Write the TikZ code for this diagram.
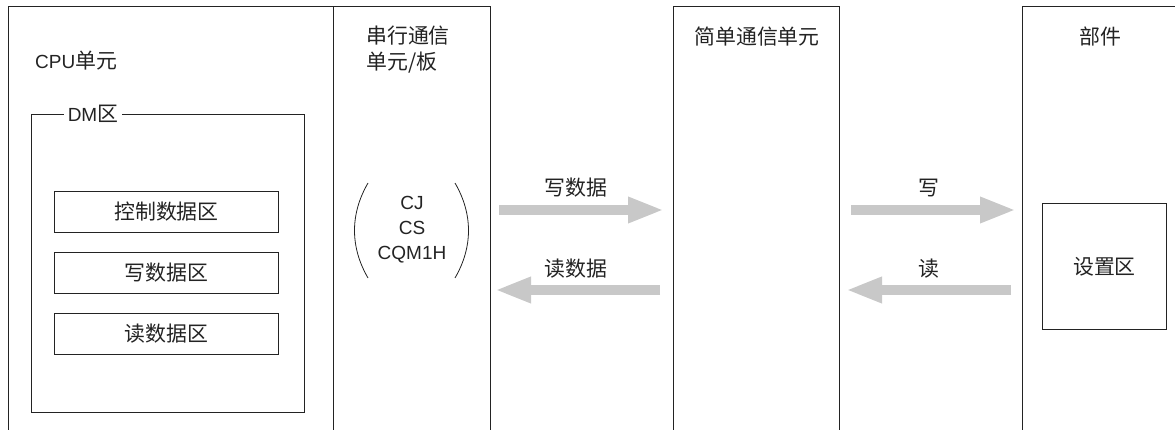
\documentclass[tikz,border=0pt]{standalone}
\usepackage{fontspec}
\setmainfont{Liberation Sans}
\newfontfamily\cjk[Scale=1.1]{Noto Sans CJK SC}
\usetikzlibrary{arrows.meta,positioning}
\definecolor{pfeilgrau}{RGB}{200,200,200}
\definecolor{linie}{RGB}{35,35,35}
\tikzset{
  kasten/.style={rectangle, draw=linie, line width=0.9pt, anchor=north west, inner sep=0pt},
  schrift/.style={font=\fontsize{19}{26}\selectfont, text=linie, inner sep=1pt},
  datenpfeil/.style={line width=10pt, color=pfeilgrau, -{Triangle[length=36pt,width=24pt]}},
  klammer/.style={draw=linie, line width=0.8pt},
}

\begin{document}
\begin{tikzpicture}[x=1pt,y=-1pt]
        % Rahmen
        \useasboundingbox (0,0) rectangle (1175,430);
        \clip (0,0) rectangle (1175,430);
        % Rechteck - CPU Einheit
        \node at (8,6) [kasten, minimum width=325pt, minimum height=444pt] (cpu) {};
        \node at (34,61) [anchor=west, schrift] (cputext) {CPU{\cjk 单元}};
        % Rechteck - serielle Einheit
        \node at (333,6) [kasten, minimum width=157pt, minimum height=444pt] (ser) {};
        \node at (365,50) [anchor=west, align=left, schrift] (sertext) {{\cjk 串行通信}\\{\cjk 单元/板}};
        % Typen in Klammern
        \node at (412,230) [align=center, schrift, font=\fontsize{19}{25}\selectfont] (typen) {CJ\\CS\\CQM1H};
        \draw[klammer] (368,183) .. controls (350,214) and (350,247) .. (368,278);
        \draw[klammer] (455,183) .. controls (473,214) and (473,247) .. (455,278);
        % Rechteck - DM Bereich
        \node at (31,114) [kasten, minimum width=273pt, minimum height=298pt] (dm) {};
        \node at (93,114) [fill=white, schrift, inner xsep=4pt] (dmtext) {DM{\cjk 区}};
        % Rechtecke - Datenbereiche
        \node at (54,191) [kasten, minimum width=224pt, minimum height=41pt] (steuer) {};
        \node at (steuer.center) [schrift] {\cjk 控制数据区};
        \node at (54,252) [kasten, minimum width=224pt, minimum height=41pt] (schreib) {};
        \node at (schreib.center) [schrift] {\cjk 写数据区};
        \node at (54,313) [kasten, minimum width=224pt, minimum height=41pt] (lese) {};
        \node at (lese.center) [schrift] {\cjk 读数据区};
        % Rechteck - einfache Einheit
        \node at (673,6) [kasten, minimum width=166pt, minimum height=444pt] (einfach) {};
        \node at (757,37) [schrift] (einfachtext) {\cjk 简单通信单元};
        % Rechteck - Bauteil
        \node at (1022,6) [kasten, minimum width=200pt, minimum height=444pt] (bauteil) {};
        \node at (1100,37) [schrift] (bauteiltext) {\cjk 部件};
        \node at (1042,203) [kasten, minimum width=124pt, minimum height=126pt] (setz) {};
        \node at (setz.center) [schrift] {\cjk 设置区};
        % Pfeile links
        \coordinate (wla) at (499,210);
        \coordinate (wlb) at (664,210);
        \draw[datenpfeil] (wla) -- (wlb);
        \node at (576,188) [schrift] {\cjk 写数据};
        \coordinate (rla) at (660,290);
        \coordinate (rlb) at (495,290);
        \draw[datenpfeil] (rla) -- (rlb);
        \node at (576,269) [schrift] {\cjk 读数据};
        % Pfeile rechts
        \coordinate (wra) at (851,210);
        \coordinate (wrb) at (1016,210);
        \draw[datenpfeil] (wra) -- (wrb);
        \node at (929,188) [schrift] {\cjk 写};
        \coordinate (rra) at (1011,290);
        \coordinate (rrb) at (846,290);
        \draw[datenpfeil] (rra) -- (rrb);
        \node at (929,269) [schrift] {\cjk 读};
    \end{tikzpicture}
\end{document}
